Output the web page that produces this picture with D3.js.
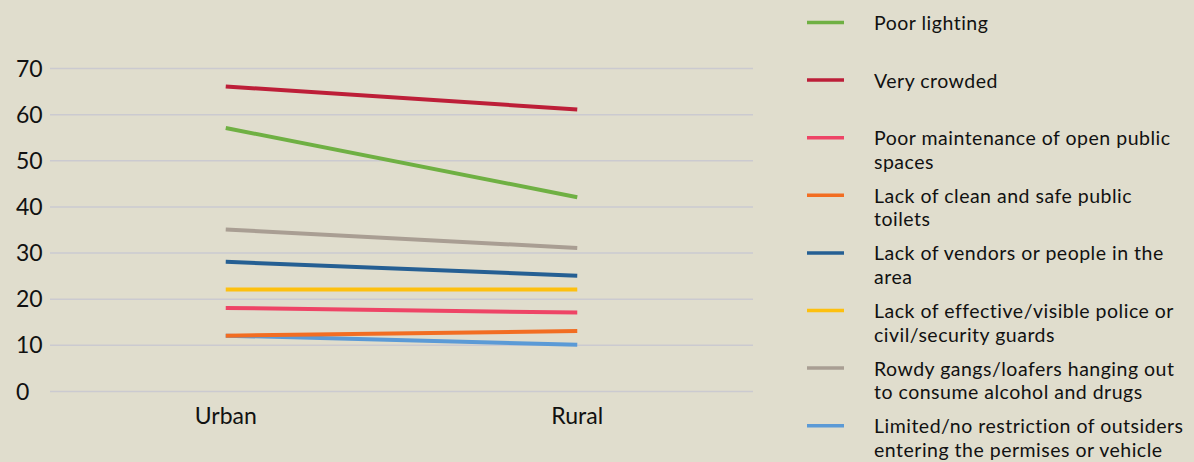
<!DOCTYPE html>
<meta charset="utf-8">
<style>
body { margin: 0; background: #e0ddcd; }
svg { display: block; font-family: Lato, "Open Sans", sans-serif; }
.grid line { stroke: #cbcad0; stroke-width: 1.5; }
.grid .domain { display: none; }
</style>
<body>
<script src="https://d3js.org/d3.v7.min.js"></script>
<script>

// data
var categories = ["Urban", "Rural"];
var series = [
  "Poor lighting",
  "Very crowded",
  "Poor maintenance of open public spaces",
  "Lack of clean and safe public toilets",
  "Lack of vendors or people in the area",
  "Lack of effective/visible police or civil/security guards",
  "Rowdy gangs/loafers hanging out to consume alcohol and drugs",
  "Limited/no restriction of outsiders entering the permises or vehicle"
];
var urbanValues = [57, 66, 18, 12, 28, 22, 35, 12];
var ruralValues = [42, 61, 17, 13, 25, 22, 31, 10];
var colors = ["#6fb043", "#bd1e38", "#ee4466", "#f26d22", "#255f93", "#fdc00f", "#a99e93", "#5b9ad6"];
var legendLines = [
  ["Poor lighting"],
  ["Very crowded"],
  ["Poor maintenance of open public", "spaces"],
  ["Lack of clean and safe public", "toilets"],
  ["Lack of vendors or people in the", "area"],
  ["Lack of effective/visible police or", "civil/security guards"],
  ["Rowdy gangs/loafers hanging out", "to consume alcohol and drugs"],
  ["Limited/no restriction of outsiders", "entering the permises or vehicle"]
];
var yTicks = [0, 10, 20, 30, 40, 50, 60, 70];

var W = 1194, H = 462;
var plot = {left: 50, right: 753, top: 68, bottom: 391};

var svg = d3.select("body").append("svg")
    .attr("width", W)
    .attr("height", H);

var x = d3.scalePoint()
    .domain(categories)
    .range([plot.left, plot.right])
    .padding(0.5);

var y = d3.scaleLinear()
    .domain([0, 70])
    .range([plot.bottom, plot.top]);

// grid lines
svg.append("g")
    .attr("class", "grid")
    .attr("transform", "translate(" + plot.left + ",0)")
    .call(d3.axisLeft(y).tickValues(yTicks).tickSize(-(plot.right - plot.left)).tickFormat(""));

// y labels (left aligned)
svg.append("g").selectAll("text")
    .data(yTicks)
  .enter().append("text")
    .attr("x", 16)
    .attr("y", function(d) { return y(d) + 8.5; })
    .style("font-size", "23px")
    .style("fill", "#111")
    .text(function(d) { return d; });

// x labels
svg.append("g").selectAll("text")
    .data(categories)
  .enter().append("text")
    .attr("x", function(d) { return x(d); })
    .attr("y", 423.5)
    .attr("text-anchor", "middle")
    .style("font-size", "23px")
    .style("fill", "#111")
    .text(function(d) { return d; });

// lines
var rows = series.map(function(s, i) {
  return {name: s, color: colors[i], values: [urbanValues[i], ruralValues[i]]};
});

var line = d3.line()
    .x(function(d, i) { return x(categories[i]); })
    .y(function(d) { return y(d); });

// draw in reverse so the first series sits on top
svg.append("g").selectAll("path")
    .data(rows.slice().reverse())
  .enter().append("path")
    .attr("d", function(d) { return line(d.values); })
    .attr("fill", "none")
    .attr("stroke", function(d) { return d.color; })
    .attr("stroke-width", 4);

// legend
var legend = svg.append("g").selectAll("g")
    .data(rows)
  .enter().append("g")
    .attr("transform", function(d, i) { return "translate(807," + (22.5 + i * 57.6) + ")"; });

legend.append("line")
    .attr("x1", 0).attr("x2", 37)
    .attr("stroke", function(d) { return d.color; })
    .attr("stroke-width", 3.5);

// one text per line, kept just far enough apart not to overlap
legend.selectAll("text")
    .data(function(d, i) { return legendLines[i]; })
  .enter().append("text")
    .attr("x", 67)
    .attr("y", function(d, i) { return 7.5 + i * 23.5; })
    .style("font-size", "19.5px")
    .style("letter-spacing", "0.5px")
    .style("fill", "#111")
    .text(function(d) { return d; });

</script>
</body>
